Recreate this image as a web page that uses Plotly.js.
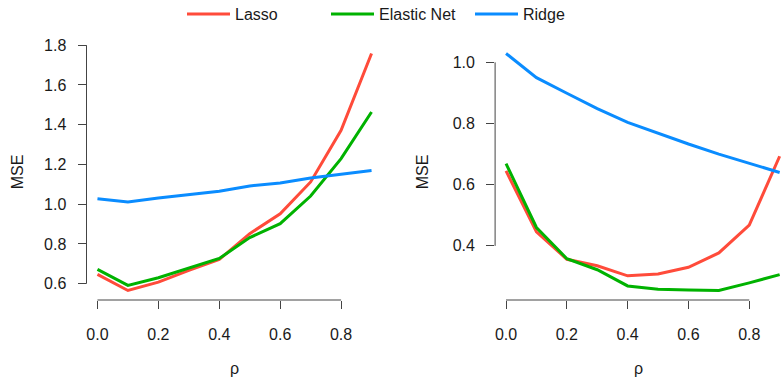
<!DOCTYPE html>
<html>
<head>
<meta charset="utf-8">
<script src="https://cdn.plot.ly/plotly-3.0.1.min.js"></script>
<style>html,body{margin:0;padding:0;background:#fff;}#chart{width:782px;height:378px;}</style>
</head>
<body>
<div id="chart"></div>
<script>
// ---- data ----
const rho = [0.0, 0.1, 0.2, 0.3, 0.4, 0.5, 0.6, 0.7, 0.8, 0.9];
const seriesNames = ["Lasso", "Elastic Net", "Ridge"];
const seriesColors = ["#FF4B3A", "#00B200", "#0A8CFF"];

const leftLasso = [0.647, 0.566, 0.608, 0.667, 0.722, 0.852, 0.952, 1.112, 1.372, 1.758];
const leftEnet  = [0.672, 0.592, 0.630, 0.679, 0.727, 0.832, 0.902, 1.041, 1.229, 1.464];
const leftRidge = [1.028, 1.011, 1.031, 1.047, 1.065, 1.092, 1.107, 1.132, 1.149, 1.169];

const rightLasso = [0.645, 0.446, 0.356, 0.335, 0.302, 0.308, 0.330, 0.377, 0.468, 0.693];
const rightEnet  = [0.669, 0.460, 0.358, 0.322, 0.269, 0.258, 0.256, 0.254, 0.279, 0.306];
const rightRidge = [1.029, 0.950, 0.899, 0.849, 0.804, 0.768, 0.733, 0.700, 0.669, 0.640];

const xTicks = [0.0, 0.2, 0.4, 0.6, 0.8];
const xTickText = ["0.0", "0.2", "0.4", "0.6", "0.8"];
const leftYTicks = [0.6, 0.8, 1.0, 1.2, 1.4, 1.6, 1.8];
const leftYTickText = ["0.6", "0.8", "1.0", "1.2", "1.4", "1.6", "1.8"];
const rightYTicks = [0.4, 0.6, 0.8, 1.0];
const rightYTickText = ["0.4", "0.6", "0.8", "1.0"];

const xTitle = "ρ";
const yTitle = "MSE";

// ---- traces ----
const leftSets = [leftLasso, leftEnet, leftRidge];
const rightSets = [rightLasso, rightEnet, rightRidge];
const traces = [];
leftSets.forEach((ys, i) => traces.push({
  x: rho, y: ys, type: "scatter", mode: "lines", name: seriesNames[i],
  line: {color: seriesColors[i], width: 3}, xaxis: "x", yaxis: "y", legendgroup: seriesNames[i]
}));
rightSets.forEach((ys, i) => traces.push({
  x: rho, y: ys, type: "scatter", mode: "lines", name: seriesNames[i],
  line: {color: seriesColors[i], width: 3}, xaxis: "x2", yaxis: "y2", legendgroup: seriesNames[i], showlegend: false
}));

// R-style padded ranges (4%)
function pad(vals) {
  const lo = Math.min(...vals), hi = Math.max(...vals), d = (hi - lo) * 0.04;
  return [lo - d, hi + d];
}
const xr = pad(rho);
const yl = pad([].concat(...leftSets));
const yr = pad([].concat(...rightSets));

const W = 782, H = 378;
const axCol = "#444";
const font = {family: "Liberation Sans, Arial, sans-serif", size: 16, color: "#1a1a1a"};

function xAxis(domain, range) {
  return {domain: domain, range: range, showgrid: false, zeroline: false, showline: false,
    tickmode: "array", tickvals: xTicks, ticktext: xTickText, ticks: "outside", ticklen: 8,
    tickcolor: axCol, tickwidth: 1, ticklabelstandoff: 12, tickfont: font,
    title: {text: xTitle, font: font, standoff: 20}};
}
function yAxis(range, tv, tt, anchor, standoff) {
  return {range: range, domain: [0, 1], showgrid: false, zeroline: false, showline: false, anchor: anchor,
    tickmode: "array", tickvals: tv, ticktext: tt, ticks: "outside", ticklen: 8,
    tickcolor: axCol, tickwidth: 1, ticklabelstandoff: 8, tickfont: font,
    title: {text: yTitle, font: font, standoff: standoff}};
}

// right panel is clipped at the window edge
const rightPxStart = 495.1, rightPxEnd = 782;
const rightPxPerUnit = (790.6 - 495.1) / (xr[1] - xr[0]);
const xr2 = [xr[0], xr[0] + (rightPxEnd - rightPxStart) / rightPxPerUnit];

const shapes = [
  {type: "line", xref: "x", yref: "y domain", x0: xTicks[0], x1: xTicks[xTicks.length-1], y0: 0, y1: 0, line: {color: axCol, width: 1}},
  {type: "line", xref: "x domain", yref: "y", x0: 0, x1: 0, y0: leftYTicks[0], y1: leftYTicks[leftYTicks.length-1], line: {color: axCol, width: 1}},
  {type: "line", xref: "x2", yref: "y2 domain", x0: xTicks[0], x1: xTicks[xTicks.length-1], y0: 0, y1: 0, line: {color: axCol, width: 1}},
  {type: "line", xref: "x2 domain", yref: "y2", x0: 0, x1: 0, y0: rightYTicks[0], y1: rightYTicks[rightYTicks.length-1], line: {color: axCol, width: 1}}
];

const layout = {
  width: W, height: H,
  margin: {l: 0, r: 0, t: 44, b: 78, autoexpand: false},
  paper_bgcolor: "#fff", plot_bgcolor: "#fff",
  font: font,
  showlegend: true,
  legend: {orientation: "h", x: 182 / W, xanchor: "left", y: 1 - 14 / H, yref: "container", yanchor: "middle",
    itemwidth: 43, entrywidth: 86, entrywidthmode: "pixels",
    font: {family: font.family, size: 16, color: "#1a1a1a"},
    bgcolor: "rgba(0,0,0,0)"},
  xaxis: xAxis([86.5 / W, 382.5 / W], xr),
  yaxis: yAxis(yl, leftYTicks, leftYTickText, "x", 16),
  xaxis2: xAxis([rightPxStart / W, 1], xr2),
  yaxis2: yAxis(yr, rightYTicks, rightYTickText, "x2", 20),
  shapes: shapes
};
layout.xaxis.anchor = "y";
layout.xaxis2.anchor = "y2";

Plotly.newPlot("chart", traces, layout, {displayModeBar: false, staticPlot: true});
</script>
</body>
</html>
